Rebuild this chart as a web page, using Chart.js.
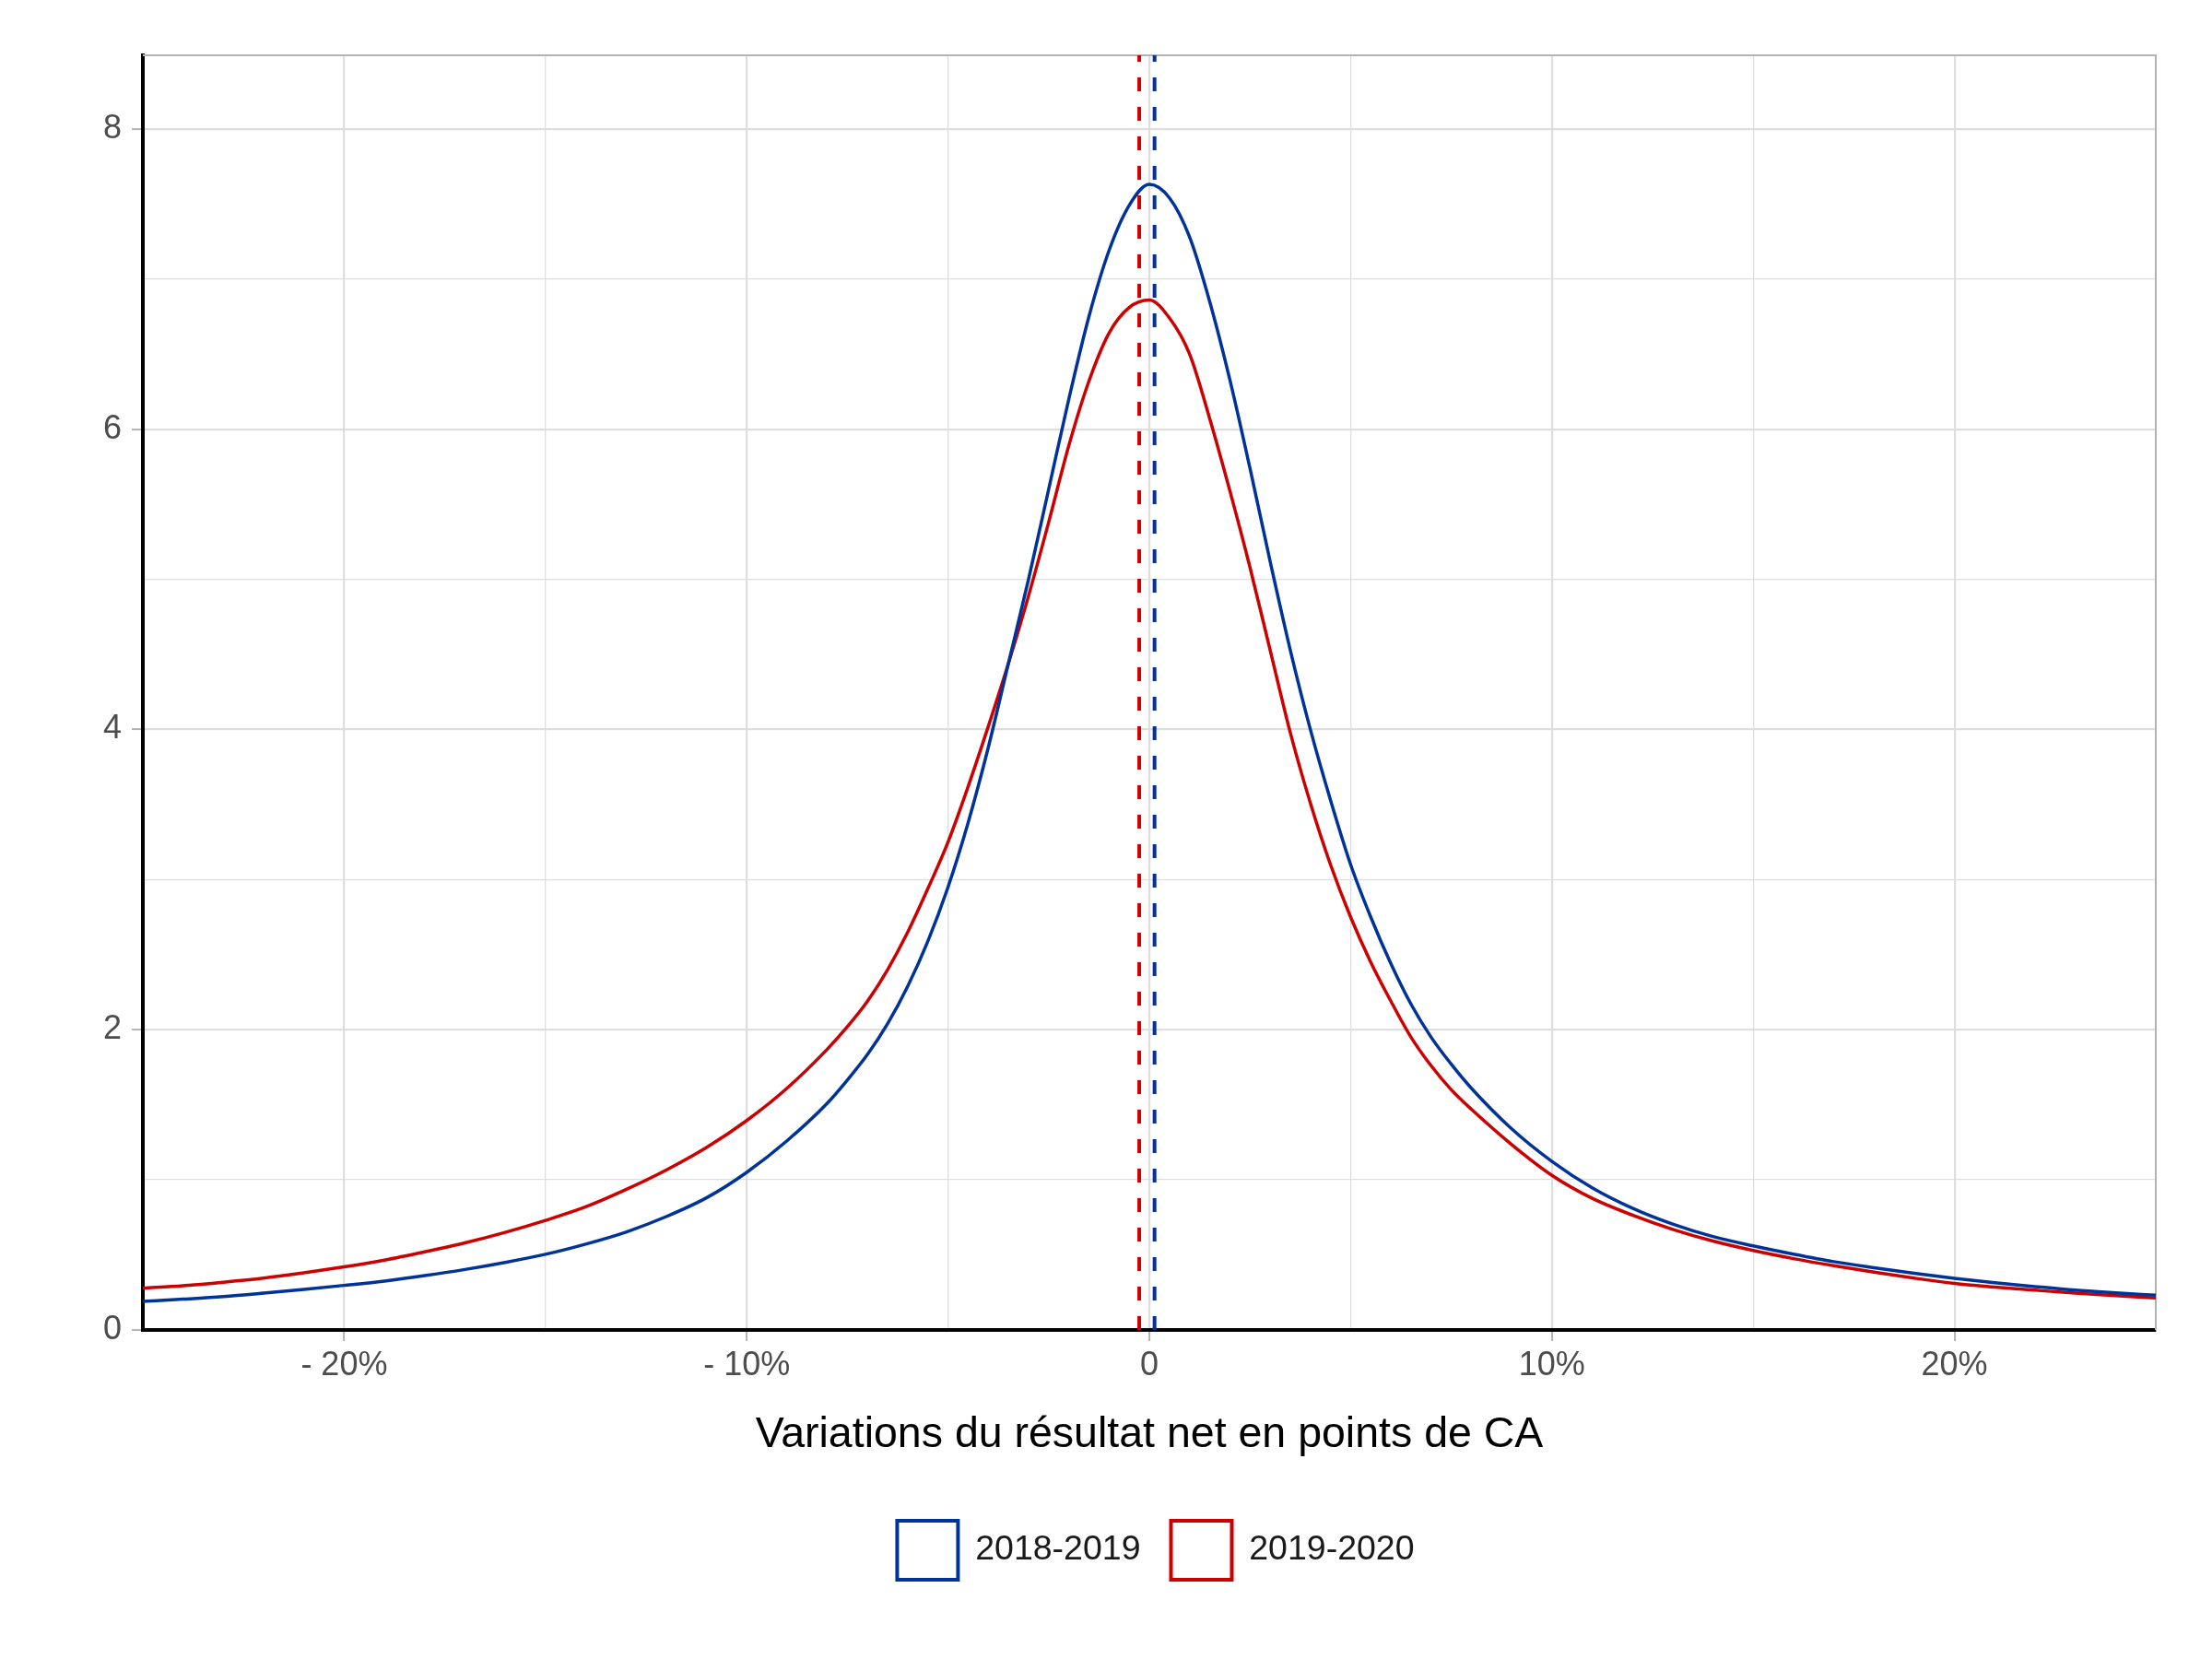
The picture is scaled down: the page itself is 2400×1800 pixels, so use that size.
<!DOCTYPE html>
<html><head><meta charset="utf-8">
<script src="https://cdn.jsdelivr.net/npm/chart.js@4.4.1/dist/chart.umd.min.js"></script>
<style>html,body{margin:0;padding:0;background:#fff;} canvas{display:block;}</style>
</head><body>
<canvas id="c" width="2400" height="1800"></canvas>
<script>
// ---- data ----
const xValues = [
  -25,-24,-23,-22,-21,-20,-19,-18,-17,-16,-15,-14,-13,-12,-11,-10,-9,
  -8,-7.5,-7,-6.5,-6,-5.5,-5,-4.5,-4,-3.5,-3,-2.5,-2,-1.5,-1,-0.5,0,
  0.5,1,1.5,2,2.5,3,3.5,4,4.5,5,5.5,6,6.5,7,7.5,8,
  9,10,11,12,13,14,15,16,17,18,19,20,21,22,23,24,25
];
const density2018_2019 = [
  0.19,0.205,0.222,0.245,0.27,0.297,0.326,0.362,0.403,0.45,0.504,0.572,0.652,0.755,0.88,1.05,1.26,
  1.51,1.665,1.835,2.04,2.29,2.59,2.95,3.38,3.88,4.44,5.00,5.60,6.20,6.75,7.19,7.49,7.63,
  7.54,7.28,6.85,6.33,5.74,5.12,4.53,4.00,3.53,3.10,2.75,2.44,2.17,1.95,1.77,1.61,
  1.34,1.123,0.947,0.811,0.705,0.622,0.56,0.505,0.455,0.415,0.378,0.344,0.315,0.289,0.265,0.247,0.231
];
const density2019_2020 = [
  0.278,0.295,0.318,0.345,0.38,0.42,0.465,0.52,0.58,0.65,0.73,0.82,0.935,1.065,1.215,1.395,1.61,
  1.87,2.02,2.19,2.40,2.65,2.94,3.25,3.62,4.02,4.44,4.89,5.38,5.89,6.32,6.64,6.81,6.86,
  6.74,6.50,6.07,5.59,5.08,4.53,3.98,3.51,3.10,2.75,2.45,2.19,1.95,1.76,1.60,1.47,
  1.235,1.03,0.877,0.765,0.67,0.592,0.529,0.475,0.428,0.385,0.345,0.31,0.286,0.265,0.245,0.228,0.214
];
const seriesLabels = ['2018-2019', '2019-2020'];
const medianValues = [0.13, -0.25];
const xTickValues = [-20, -10, 0, 10, 20];
const xTickLabels = ['- 20%', '- 10%', '0', '10%', '20%'];
const xMinorValues = [-25, -15, -5, 5, 15, 25];
const yTickValues = [0, 2, 4, 6, 8];
const yTickLabels = ['0', '2', '4', '6', '8'];
const yMinorValues = [1, 3, 5, 7];
const xAxisTitle = 'Variations du résultat net en points de CA';
const xRange = [-25, 25];
const yRange = [0, 8.49];

// ---- styles ----
const seriesColors = ['#003399', '#cc0000'];
const FONT = "'Liberation Sans', Arial, sans-serif";
const GRID = '#dedede';
const TICK = '#b3b3b3';

const toPoints = (xs, ys) => xs.map((x, i) => ({x: x, y: ys[i]}));
const seriesValues = [density2018_2019, density2019_2020];

const datasets = [];
medianValues.forEach((m, i) => {
  datasets.push({
    label: 'median ' + seriesLabels[i],
    data: [{x: m, y: yRange[0]}, {x: m, y: yRange[1]}],
    borderColor: seriesColors[i],
    borderWidth: 4,
    borderDash: [15, 17],
    pointRadius: 0,
    fill: false,
    order: 0,
    isMedian: true
  });
});
seriesLabels.forEach((lab, i) => {
  datasets.push({
    label: lab,
    data: toPoints(xValues, seriesValues[i]),
    borderColor: seriesColors[i],
    backgroundColor: 'rgba(255,255,255,0)',
    borderWidth: 3.5,
    pointRadius: 0,
    fill: false,
    cubicInterpolationMode: 'monotone',
    order: 1
  });
});

const panelBorder = {
  id: 'panelBorder',
  beforeDatasetsDraw(chart) {
    const {ctx, chartArea: {left, right, top, bottom}} = chart;
    ctx.save();
    ctx.strokeStyle = TICK;
    ctx.lineWidth = 2;
    ctx.beginPath();
    ctx.moveTo(left, top);
    ctx.lineTo(right, top);
    ctx.lineTo(right, bottom);
    ctx.stroke();
    ctx.restore();
  }
};

const isMajorX = v => xTickValues.includes(v);
const isMajorY = v => yTickValues.includes(v);

new Chart(document.getElementById('c'), {
  type: 'line',
  data: {datasets: datasets},
  plugins: [panelBorder],
  options: {
    responsive: false,
    animation: false,
    devicePixelRatio: 1,
    layout: {padding: {top: 60, left: 108, right: 0, bottom: 76}},
    plugins: {
      tooltip: {enabled: false},
      legend: {
        display: true,
        position: 'bottom',
        labels: {
          boxWidth: 66,
          boxHeight: 64,
          padding: 33,
          color: '#1a1a1a',
          font: {family: FONT, size: 37.5},
          filter: (item, data) => !data.datasets[item.datasetIndex].isMedian,
          generateLabels: (chart) => {
            const items = Chart.defaults.plugins.legend.labels.generateLabels(chart);
            items.forEach(it => { it.lineWidth = 4; it.fillStyle = 'rgba(255,255,255,0)'; it.lineDash = []; });
            return items;
          }
        }
      }
    },
    scales: {
      x: {
        type: 'linear',
        position: 'bottom',
        min: xRange[0], max: xRange[1],
        afterBuildTicks: s => { s.ticks = xTickValues.concat(xMinorValues).sort((a,b)=>a-b).map(v => ({value: v})); },
        afterFit: s => { s.height = 174; },
        ticks: {
          autoSkip: false, maxRotation: 0, minRotation: 0,
          padding: 5,
          color: '#4d4d4d',
          font: {family: FONT, size: 36},
          callback: v => { const i = xTickValues.indexOf(v); return i >= 0 ? xTickLabels[i] : ''; }
        },
        grid: {
          drawTicks: true,
          tickLength: 12,
          tickWidth: 2,
          tickColor: ctx => isMajorX(ctx.tick.value) ? TICK : 'rgba(0,0,0,0)',
          color: GRID,
          lineWidth: ctx => isMajorX(ctx.tick.value) ? 2.2 : 1.3
        },
        border: {display: true, color: '#000', width: 4},
        title: {
          display: true,
          text: xAxisTitle,
          color: '#000',
          font: {family: FONT, size: 46.5},
          padding: {top: 0, bottom: 32}
        }
      },
      y: {
        type: 'linear',
        position: 'left',
        min: yRange[0], max: yRange[1],
        afterBuildTicks: s => { s.ticks = yTickValues.concat(yMinorValues).sort((a,b)=>a-b).map(v => ({value: v})); },
        afterFit: s => { s.width = 47; },
        ticks: {
          autoSkip: false,
          padding: 11,
          color: '#4d4d4d',
          font: {family: FONT, size: 36},
          callback: v => { const i = yTickValues.indexOf(v); return i >= 0 ? yTickLabels[i] : ''; }
        },
        grid: {
          drawTicks: true,
          tickLength: 12,
          tickWidth: 2,
          tickColor: ctx => isMajorY(ctx.tick.value) ? TICK : 'rgba(0,0,0,0)',
          color: GRID,
          lineWidth: ctx => isMajorY(ctx.tick.value) ? 2.2 : 1.3
        },
        border: {display: true, color: '#000', width: 4}
      },
      yRight: {
        type: 'linear',
        position: 'right',
        display: true,
        min: yRange[0], max: yRange[1],
        afterFit: s => { s.width = 61; },
        ticks: {display: false},
        grid: {display: false, drawTicks: false},
        border: {display: false}
      }
    }
  }
});
</script>
</body></html>
